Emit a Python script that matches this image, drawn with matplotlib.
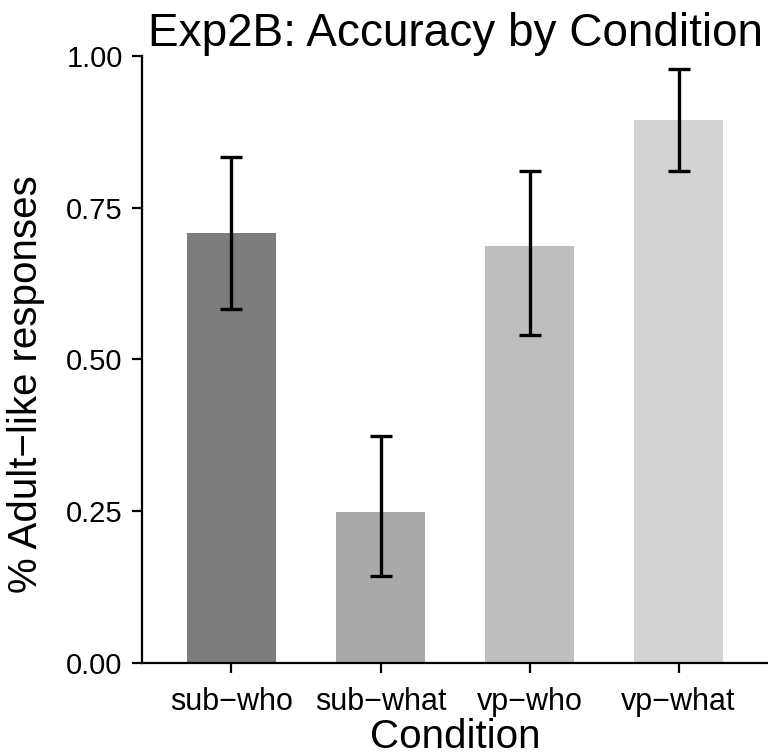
import numpy as np
import matplotlib
matplotlib.use("Agg")
import matplotlib.pyplot as plt

# data
condicoes = ["sub\u2212who", "sub\u2212what", "vp\u2212who", "vp\u2212what"]
acuracia = [0.708, 0.248, 0.687, 0.895]
erro_inf = [0.583, 0.144, 0.541, 0.811]
erro_sup = [0.833, 0.374, 0.811, 0.979]
cores = ["#7d7d7d", "#a9a9a9", "#bebebe", "#d3d3d3"]

plt.rcParams["font.family"] = ["Liberation Sans", "DejaVu Sans"]

fig = plt.figure(figsize=(7.68, 7.56), dpi=100)
ax = fig.add_axes([0.185, 0.123, 0.815, 0.803])

x = np.arange(1, len(condicoes) + 1)
y = np.array(acuracia)
yerr = np.array([y - np.array(erro_inf), np.array(erro_sup) - y])

ax.bar(x, y, width=0.6, color=cores, zorder=1)
ax.errorbar(x, y, yerr=yerr, fmt="none", ecolor="black", elinewidth=2.4,
            capsize=8, capthick=2.4, zorder=2)

ax.set_xlim(0.4, 4.6)
ax.set_ylim(0, 1.0)
ax.set_xticks(x)
ax.set_xticklabels(condicoes)
ax.set_yticks([0, 0.25, 0.5, 0.75, 1.0])
ax.set_yticklabels(["0.00", "0.25", "0.50", "0.75", "1.00"])

for s in ["top", "right"]:
    ax.spines[s].set_visible(False)
for s in ["left", "bottom"]:
    ax.spines[s].set_linewidth(1.6)
    ax.spines[s].set_color("black")
ax.tick_params(axis="both", length=7, width=1.6, colors="black")
ax.tick_params(axis="y", labelsize=21, pad=7)
ax.tick_params(axis="x", labelsize=22, pad=10)

ax.set_xlabel("Condition", fontsize=29, labelpad=1)
ax.set_ylabel("% Adult\u2212like responses", fontsize=29)
ax.yaxis.set_label_coords(-0.155, 0.46)
ax.set_title("Exp2B: Accuracy by Condition", fontsize=33, pad=6)

plt.savefig("out.png", dpi=100)
